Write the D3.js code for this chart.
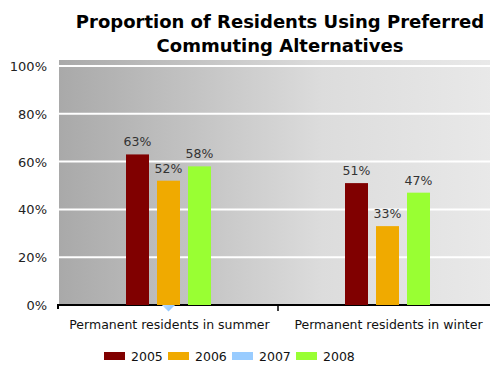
<!DOCTYPE html>
<html>
<head>
<meta charset="utf-8">
<script src="https://cdn.jsdelivr.net/npm/d3@7/dist/d3.min.js"></script>
<style>
  html, body { margin: 0; padding: 0; background: #fff; }
  svg { display: block; }
</style>
</head>
<body>
<svg id="chart" width="490" height="366"></svg>
<script>
// Commuting survey: share of residents using preferred alternatives
const categories = ["Permanent residents in summer", "Permanent residents in winter"];
const barYears = ["2005", "2006", "2008"];
const values2005 = [63, 51];
const values2006 = [52, 33];
const values2008 = [58, 47];
const values2007 = [0, null];          // 2007 plotted as a marker series
const legendYears = ["2005", "2006", "2007", "2008"];
const yTicks = [0, 20, 40, 60, 80, 100];
const titleLines = ["Proportion of Residents Using Preferred", "Commuting Alternatives"];

const colors = { "2005": "#800000", "2006": "#f0aa00", "2007": "#99ccff", "2008": "#99ff33" };
const barSeries = { "2005": values2005, "2006": values2006, "2008": values2008 };

const svg = d3.select("#chart");
const font = "'DejaVu Sans', Verdana, sans-serif";
const fs = 12.5;

const plot = { left: 59, right: 497, top: 60, bottom: 305 };

const x = d3.scaleBand().domain(categories).range([plot.left, plot.right]).padding(0);
const y = d3.scaleLinear().domain([0, 100]).range([plot.bottom, 66]);

// background gradient
const defs = svg.append("defs");
const bg = defs.append("linearGradient").attr("id", "bgGrad").attr("x1", 0).attr("x2", 1).attr("y1", 0).attr("y2", 0);
bg.append("stop").attr("offset", "0%").attr("stop-color", "#a9a9a9");
bg.append("stop").attr("offset", "60%").attr("stop-color", "#dcdcdc");
bg.append("stop").attr("offset", "100%").attr("stop-color", "#e9e9e9");

const dg = defs.append("linearGradient").attr("id", "diaGrad").attr("x1", 0).attr("x2", 1).attr("y1", 0).attr("y2", 1);
dg.append("stop").attr("offset", "0%").attr("stop-color", "#d6eaff");
dg.append("stop").attr("offset", "100%").attr("stop-color", "#7fbfff");

svg.append("rect")
  .attr("x", plot.left).attr("y", plot.top)
  .attr("width", plot.right - plot.left).attr("height", plot.bottom - plot.top)
  .attr("fill", "url(#bgGrad)");

// gridlines
svg.append("g").selectAll("line").data(yTicks.filter(d => d > 0)).join("line")
  .attr("x1", plot.left).attr("x2", plot.right)
  .attr("y1", d => y(d)).attr("y2", d => y(d))
  .attr("stroke", "#fff").attr("stroke-width", 2);

// y-axis labels
svg.append("g").selectAll("text").data(yTicks).join("text")
  .attr("x", 47).attr("y", d => y(d) + 5)
  .attr("text-anchor", "end")
  .attr("font-family", font).attr("font-size", 13).attr("fill", "#222")
  .text(d => d + "%");

// baseline and ticks
svg.append("line").attr("x1", 57).attr("x2", plot.right)
  .attr("y1", plot.bottom).attr("y2", plot.bottom)
  .attr("stroke", "#000").attr("stroke-width", 2);
svg.append("line").attr("x1", 58).attr("x2", 58)
  .attr("y1", plot.bottom).attr("y2", plot.bottom + 4)
  .attr("stroke", "#000").attr("stroke-width", 2);
svg.append("line").attr("x1", x(categories[1])).attr("x2", x(categories[1]))
  .attr("y1", plot.bottom).attr("y2", plot.bottom + 6)
  .attr("stroke", "#000").attr("stroke-width", 1.5);

// 2007 marker series
svg.append("g").selectAll("path")
  .data(categories.map((c, i) => ({ c, v: values2007[i] })).filter(d => d.v !== null))
  .join("path")
  .attr("d", d3.symbol(d3.symbolDiamond2, 110))
  .attr("transform", d => `translate(${x(d.c) + x.bandwidth() / 2},${y(d.v)})`)
  .attr("fill", "url(#diaGrad)");

// bars
const barW = 23, step = 31;
const groupW = step * (barYears.length - 1) + barW;
const bars = [];
barYears.forEach((yr, j) => {
  categories.forEach((c, i) => {
    const cx = x(c) + x.bandwidth() / 2;
    bars.push({ yr, c, v: barSeries[yr][i], x0: cx - groupW / 2 + j * step });
  });
});

svg.append("g").selectAll("rect").data(bars).join("rect")
  .attr("x", d => d.x0).attr("width", barW)
  .attr("y", d => y(d.v)).attr("height", d => y(0) - y(d.v))
  .attr("fill", d => colors[d.yr]);

// value labels
svg.append("g").selectAll("text").data(bars).join("text")
  .attr("x", d => d.x0 + barW / 2).attr("y", d => y(d.v) - 8)
  .attr("text-anchor", "middle")
  .attr("font-family", font).attr("font-size", fs).attr("fill", "#333")
  .text(d => d.v + "%");

// category labels
svg.append("g").selectAll("text").data(categories).join("text")
  .attr("x", d => x(d) + x.bandwidth() / 2 + 1).attr("y", 329)
  .attr("text-anchor", "middle")
  .attr("font-family", font).attr("font-size", fs).attr("fill", "#111")
  .text(d => d);

// title
svg.append("g").selectAll("text").data(titleLines).join("text")
  .attr("x", 280).attr("y", (d, i) => 28 + i * 24)
  .attr("text-anchor", "middle")
  .attr("font-family", font).attr("font-weight", "bold").attr("font-size", 18)
  .attr("fill", "#000")
  .text(d => d);

// legend
const leg = svg.append("g").selectAll("g").data(legendYears).join("g")
  .attr("transform", (d, i) => `translate(${104 + i * 64},352)`);
leg.append("rect").attr("width", 21).attr("height", 8).attr("fill", d => colors[d]);
leg.append("text").attr("x", 27).attr("y", 9)
  .attr("font-family", font).attr("font-size", fs).attr("fill", "#111")
  .text(d => d);
</script>
</body>
</html>
